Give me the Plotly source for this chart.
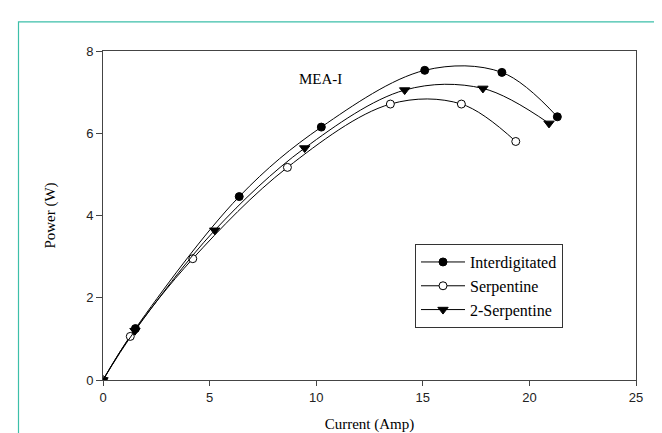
import plotly.graph_objects as go

# Data
inter_x = [0, 1.52, 6.39, 10.24, 15.09, 18.71, 21.31]
inter_y = [0, 1.25, 4.46, 6.15, 7.53, 7.48, 6.40]

serp_x = [0, 1.28, 4.21, 8.65, 13.48, 16.81, 19.36]
serp_y = [0, 1.06, 2.95, 5.17, 6.71, 6.71, 5.80]

serp2_x = [0, 1.50, 5.24, 9.46, 14.15, 17.82, 20.92]
serp2_y = [0, 1.20, 3.64, 5.64, 7.05, 7.09, 6.24]

x_ticks = [0, 5, 10, 15, 20, 25]
y_ticks = [0, 2, 4, 6, 8]

SERIF = "Liberation Serif, Times New Roman, serif"
SANS = "Liberation Sans, Arial, sans-serif"

fig = go.Figure()

fig.add_trace(go.Scatter(
    x=inter_x, y=inter_y, name="Interdigitated",
    mode="lines+markers",
    line=dict(color="black", width=1, shape="spline", smoothing=1.0),
    marker=dict(symbol="circle", size=8, color="black", line=dict(color="black", width=1)),
))
fig.add_trace(go.Scatter(
    x=serp_x, y=serp_y, name="Serpentine",
    mode="lines+markers",
    line=dict(color="black", width=1, shape="spline", smoothing=1.0),
    marker=dict(symbol="circle", size=8, color="white", line=dict(color="black", width=1)),
))
fig.add_trace(go.Scatter(
    x=serp2_x, y=serp2_y, name="2-Serpentine",
    mode="lines+markers",
    line=dict(color="black", width=1, shape="spline", smoothing=1.0),
    marker=dict(symbol="triangle-down", size=9, color="black", line=dict(color="black", width=1)),
))

fig.add_annotation(x=10.2, y=7.33, xref="x", yref="y", text="MEA-I", showarrow=False,
                   font=dict(family=SERIF, size=15, color="black"))

# teal frame around the figure
fig.add_shape(type="rect", xref="paper", yref="paper",
              x0=(10.5 - 95) / 533, x1=(680 - 95) / 533,
              y0=(377 - 450) / 334, y1=(377 - 13.5) / 334,
              line=dict(color="#3dbfa9", width=1.2), fillcolor="rgba(0,0,0,0)", layer="below")

fig.update_layout(
    width=662, height=433,
    margin=dict(l=95, r=34, t=43, b=56),
    paper_bgcolor="white", plot_bgcolor="white",
    showlegend=True,
    legend=dict(
        x=(407 - 95) / 533, y=(377 - 239) / 334, xanchor="left", yanchor="top",
        bordercolor="#333333", borderwidth=1, bgcolor="white",
        font=dict(family=SERIF, size=16, color="black"),
        tracegroupgap=0, itemwidth=44,
    ),
    xaxis=dict(
        range=[0, 25], tickvals=x_ticks, showgrid=False, zeroline=False,
        showline=True, linecolor="#444444", linewidth=1, mirror=True,
        ticks="outside", ticklen=5, tickcolor="#444444",
        tickfont=dict(family=SANS, size=13, color="#222222"),
        title=dict(text="Current (Amp)", font=dict(family=SERIF, size=15, color="black"), standoff=14),
    ),
    yaxis=dict(
        range=[0, 8], tickvals=y_ticks, showgrid=False, zeroline=False,
        showline=True, linecolor="#444444", linewidth=1, mirror=True,
        ticks="outside", ticklen=6, tickcolor="#444444",
        tickfont=dict(family=SANS, size=13, color="#222222"),
        title=dict(text="Power (W)", font=dict(family=SERIF, size=15, color="black"), standoff=26),
    ),
)

fig.write_html("out.html")
